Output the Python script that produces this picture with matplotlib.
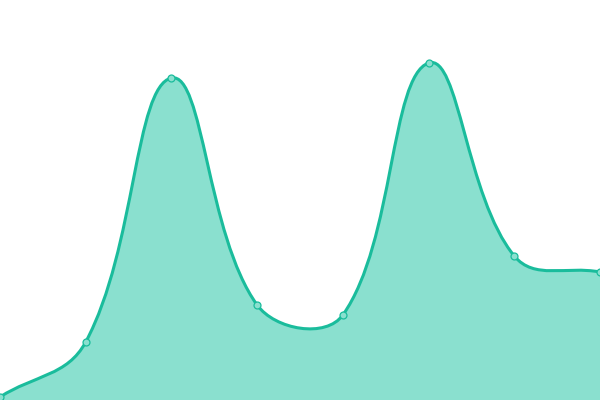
import matplotlib
matplotlib.use('Agg')
import matplotlib.pyplot as plt
import numpy as np
from matplotlib.path import Path
from matplotlib.patches import PathPatch

# data
labels = ['A', 'B', 'C', 'D', 'E', 'F', 'G', 'H']
values = [3, 58, 322, 95, 85, 337, 144, 128]

line_color = '#1abc9c'
fill_color = '#8ae0cf'
tension = 0.4
W, H = 600, 400

xs = np.arange(len(values)) * W / (len(values) - 1)
ys = np.array(values, dtype=float)


def spline_controls(x, y, t):
    # chart.js style spline control points
    n = len(x)
    prev_cp, next_cp = [], []
    for i in range(n):
        p0 = (x[max(i - 1, 0)], y[max(i - 1, 0)])
        p1 = (x[i], y[i])
        p2 = (x[min(i + 1, n - 1)], y[min(i + 1, n - 1)])
        d01 = np.hypot(p1[0] - p0[0], p1[1] - p0[1])
        d12 = np.hypot(p2[0] - p1[0], p2[1] - p1[1])
        s01 = d01 / (d01 + d12) if d01 + d12 else 0
        s12 = d12 / (d01 + d12) if d01 + d12 else 0
        fa, fb = t * s01, t * s12
        prev_cp.append((p1[0] - fa * (p2[0] - p0[0]), min(max(p1[1] - fa * (p2[1] - p0[1]), 0), H)))
        next_cp.append((p1[0] + fb * (p2[0] - p0[0]), min(max(p1[1] + fb * (p2[1] - p0[1]), 0), H)))
    return prev_cp, next_cp


pc, nc = spline_controls(xs, ys, tension)
verts = [(xs[0], ys[0])]
codes = [Path.MOVETO]
for i in range(1, len(xs)):
    verts += [nc[i - 1], pc[i], (xs[i], ys[i])]
    codes += [Path.CURVE4] * 3

fill_verts = verts + [(xs[-1], 0), (xs[0], 0), (xs[0], ys[0])]
fill_codes = codes + [Path.LINETO, Path.LINETO, Path.CLOSEPOLY]

fig = plt.figure(figsize=(6, 4), dpi=100)
ax = fig.add_axes([0, 0, 1, 1])
ax.add_patch(PathPatch(Path(fill_verts, fill_codes), facecolor=fill_color, edgecolor='none'))
ax.add_patch(PathPatch(Path(verts, codes), facecolor='none', edgecolor=line_color, linewidth=2.2,
                       capstyle='round', joinstyle='round'))
ax.plot(xs, ys, 'o', markersize=5, markerfacecolor=fill_color, markeredgecolor=line_color,
        markeredgewidth=0.9, zorder=5)
ax.set_xlim(0, W)
ax.set_ylim(0, H)
ax.axis('off')
fig.savefig('out.png', dpi=100)
